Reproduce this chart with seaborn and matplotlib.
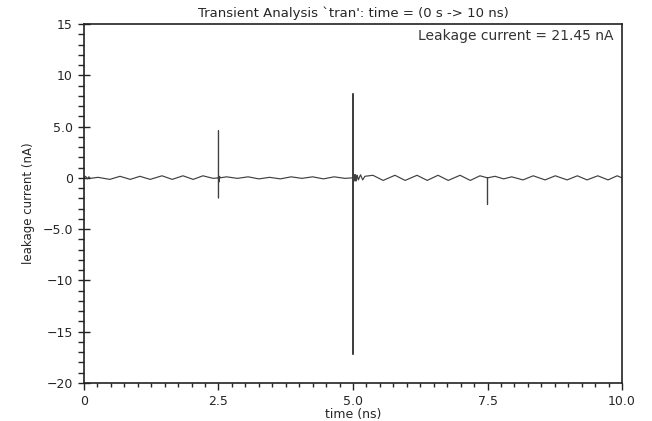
import matplotlib
matplotlib.use("Agg")
import matplotlib.pyplot as plt
import seaborn as sns
import pandas as pd
from matplotlib.ticker import FixedLocator, MultipleLocator

# waveform (time in ns, current in nA)
time_ns = [0, 0.03, 0.06, 0.09, 0.12, 0.26, 0.48, 0.67, 0.86, 1.04, 1.23, 1.45,
           1.64, 1.84, 2.03, 2.21, 2.4, 2.5, 2.5, 2.5, 2.5,
           2.51, 2.52, 2.53, 2.65, 2.85, 3.05, 3.25, 3.45, 3.65, 3.85, 4.05,
           4.25, 4.45, 4.65, 4.85, 5.0, 5.0, 5.0, 5.0,
           5.01, 5.02, 5.03, 5.04, 5.05, 5.06, 5.08, 5.1, 5.14, 5.18, 5.22,
           5.37, 5.56, 5.78, 5.97, 6.19, 6.38, 6.58, 6.77, 6.99, 7.18, 7.36,
           7.5, 7.5, 7.5,
           7.64, 7.8, 7.95, 8.16, 8.35, 8.57, 8.76, 8.98, 9.17, 9.35, 9.55,
           9.74, 9.91, 10.0]
current_na = [0, 0.15, -0.1, 0.1, -0.05, 0.05, -0.15, 0.15, -0.15, 0.15, -0.15, 0.2,
              -0.15, 0.2, -0.15, 0.2, -0.05, 0, 4.6, -1.95, 0,
              -0.4, 0.15, 0, 0.1, -0.05, 0.1, -0.1, 0.05, -0.1, 0.1, -0.05,
              0.1, -0.1, 0.1, -0.05, 0, 8.2, -17.2, 0,
              0.3, -0.3, 0.3, -0.3, 0.3, -0.3, 0.25, -0.2, 0.3, -0.2, 0.15,
              0.25, -0.25, 0.25, -0.25, 0.25, -0.25, 0.25, -0.25, 0.25, -0.25, 0.2,
              0, -2.6, 0,
              0.15, -0.1, 0.1, -0.2, 0.2, -0.2, 0.2, -0.2, 0.2, -0.2, 0.2,
              -0.2, 0.2, 0]

x_ticks = [0, 2.5, 5.0, 7.5, 10.0]
x_labels = ["0", "2.5", "5.0", "7.5", "10.0"]
y_ticks = [15, 10, 5, 0, -5, -10, -15, -20]
y_labels = ["15", "10", "5.0", "0", "\u22125.0", "\u221210", "\u221215", "\u221220"]

df = pd.DataFrame({"time": time_ns, "current": current_na})

sns.set_style("ticks")
plt.rcParams["font.family"] = ["DejaVu Sans"]

fig = plt.figure(figsize=(6.52, 4.21), dpi=100)
ax = fig.add_axes([0.1288, 0.0903, 0.8252, 0.8527])

sns.lineplot(data=df, x="time", y="current", sort=False, estimator=None,
             color="#404040", linewidth=0.85, ax=ax)

ax.set_xlim(0, 10)
ax.set_ylim(-20, 15)
ax.xaxis.set_major_locator(FixedLocator(x_ticks))
ax.set_xticklabels(x_labels)
ax.xaxis.set_minor_locator(MultipleLocator(0.25))
ax.yaxis.set_major_locator(FixedLocator(y_ticks))
ax.set_yticklabels(y_labels)
ax.yaxis.set_minor_locator(MultipleLocator(1))

ax.tick_params(axis="both", which="major", labelsize=9, width=1, color="#222222")
ax.tick_params(axis="y", which="major", direction="inout", length=9)
ax.tick_params(axis="y", which="minor", direction="out", length=4, width=1)
ax.tick_params(axis="x", which="major", direction="out", length=5)
ax.tick_params(axis="x", which="minor", direction="out", length=3, width=1)

for s in ax.spines.values():
    s.set_visible(True)
    s.set_color("#222222")
    s.set_linewidth(1.2)

ax.set_title("Transient Analysis `tran': time = (0 s -> 10 ns)", fontsize=9.5, pad=5)
ax.set_xlabel("time (ns)", fontsize=9, labelpad=0)
ax.set_ylabel("leakage current (nA)", fontsize=8.5, labelpad=5)
ax.text(0.985, 0.985, "Leakage current = 21.45 nA", transform=ax.transAxes,
        ha="right", va="top", fontsize=10, color="#333333")

fig.savefig("out.png", dpi=100)
